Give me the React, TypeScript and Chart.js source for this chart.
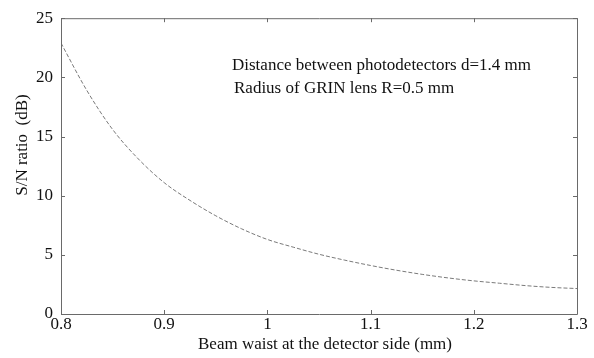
import React, { useEffect, useRef } from "react";
import { Chart, registerables } from "chart.js";

Chart.register(...registerables);

const beamWaist = [0.8, 0.825, 0.85, 0.875, 0.9, 0.925, 0.95, 0.975, 1.0, 1.025, 1.05, 1.075, 1.1, 1.125, 1.15, 1.175, 1.2, 1.225, 1.25, 1.275, 1.3];
const snRatio = [22.9, 18.9, 15.6, 13.1, 11.1, 9.6, 8.3, 7.2, 6.3, 5.65, 5.05, 4.55, 4.1, 3.7, 3.35, 3.05, 2.8, 2.6, 2.4, 2.25, 2.15];
const xTicks = [0.8, 0.9, 1.0, 1.1, 1.2, 1.3];
const yTicks = [0, 5, 10, 15, 20, 25];
const noteLines = ["Distance between photodetectors d=1.4 mm", "Radius of GRIN lens R=0.5 mm"];
const xTitle = "Beam waist at the detector side (mm)";
const yTitle = "S/N ratio  (dB)";

const FONT = "'Liberation Serif', 'Times New Roman', serif";

const framePlugin = {
  id: "frameTicks",
  afterDraw(chart: any) {
    const { ctx, chartArea, scales } = chart;
    const { left, right, top, bottom } = chartArea;
    ctx.save();
    ctx.strokeStyle = "#6a6a6a";
    ctx.lineWidth = 1;
    ctx.beginPath();
    ctx.rect(left + 0.5, top + 0.5, right - left, bottom - top);
    ctx.stroke();
    const tl = 4;
    ctx.beginPath();
    xTicks.forEach((v) => {
      const px = Math.round(scales.x.getPixelForValue(v)) + 0.5;
      ctx.moveTo(px, bottom);
      ctx.lineTo(px, bottom - tl);
      ctx.moveTo(px, top);
      ctx.lineTo(px, top + tl);
    });
    yTicks.forEach((v) => {
      const py = Math.round(scales.y.getPixelForValue(v)) + 0.5;
      ctx.moveTo(left, py);
      ctx.lineTo(left + tl, py);
      ctx.moveTo(right, py);
      ctx.lineTo(right - tl, py);
    });
    ctx.stroke();

    ctx.fillStyle = "#111";
    ctx.font = `17px ${FONT}`;
    ctx.textAlign = "left";
    ctx.textBaseline = "alphabetic";
    ctx.fillText(noteLines[0], 232, 70);
    ctx.fillText(noteLines[1], 234, 93);

    ctx.font = `17px ${FONT}`;
    ctx.textAlign = "center";
    ctx.fillText(xTitle, 325, 349);

    ctx.translate(27, 145);
    ctx.rotate(-Math.PI / 2);
    ctx.font = `17px ${FONT}`;
    ctx.fillText(yTitle, 0, 0);
    ctx.restore();
  },
};

export default function App() {
  const ref = useRef<HTMLCanvasElement>(null);
  useEffect(() => {
    document.body.style.margin = "0";
    const canvas = ref.current!;
    const chart = new Chart(canvas, {
      type: "scatter",
      data: {
        datasets: [
          {
            data: beamWaist.map((x, i) => ({ x, y: snRatio[i] })),
            showLine: true,
            borderColor: "#7a7a7a",
            borderWidth: 1,
            borderDash: [4, 2],
            pointRadius: 0,
            cubicInterpolationMode: "monotone",
          } as any,
        ],
      },
      options: {
        animation: false,
        responsive: false,
        devicePixelRatio: 1,
        layout: { padding: { top: 17, right: 17, left: 0, bottom: 0 } },
        plugins: { legend: { display: false }, tooltip: { enabled: false } },
        scales: {
          x: {
            type: "linear",
            min: 0.8,
            max: 1.3,
            afterBuildTicks: (s: any) => {
              s.ticks = xTicks.map((v) => ({ value: v }));
            },
            afterFit: (s: any) => {
              s.height = 44;
            },
            ticks: {
              font: { family: FONT, size: 17 },
              color: "#111",
              padding: 0,
              maxRotation: 0,
              autoSkip: false,
              callback: (v: any) => String(Number(Number(v).toFixed(1))),
            },
            grid: { display: false, drawTicks: false },
            border: { display: false },
          },
          y: {
            type: "linear",
            min: 0,
            max: 25,
            afterBuildTicks: (s: any) => {
              s.ticks = yTicks.map((v) => ({ value: v }));
            },
            afterFit: (s: any) => {
              s.width = 61;
            },
            ticks: {
              font: { family: FONT, size: 17 },
              color: "#111",
              padding: 8,
              autoSkip: false,
              callback: (v: any) => String(v),
            },
            grid: { display: false, drawTicks: false },
            border: { display: false },
          },
        },
      },
      plugins: [framePlugin],
    });
    return () => chart.destroy();
  }, []);
  return (
    <div style={{ width: 594, height: 358, background: "#fff" }}>
      <canvas ref={ref} width={594} height={358} />
    </div>
  );
}
